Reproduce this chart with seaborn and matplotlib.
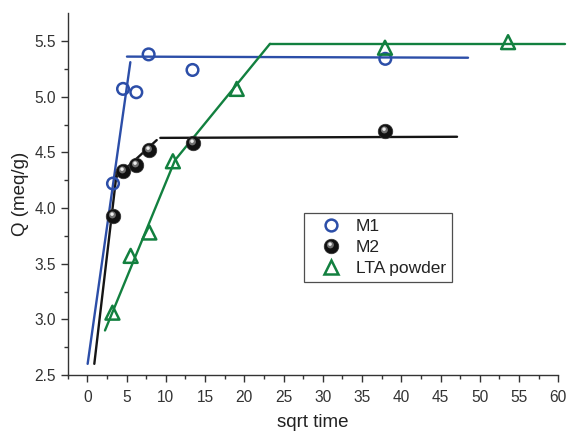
import numpy as np
import pandas as pd
import matplotlib
matplotlib.use("Agg")
import matplotlib.pyplot as plt
import seaborn as sns
from matplotlib.path import Path
from matplotlib.lines import Line2D
from matplotlib.legend_handler import HandlerTuple
from matplotlib.ticker import MultipleLocator

# ---- data ----
m1_x = [3.27, 4.55, 6.24, 7.81, 13.4, 37.96]
m1_q = [4.22, 5.07, 5.04, 5.38, 5.24, 5.34]
m2_x = [3.22, 4.55, 6.24, 7.81, 13.46, 37.96]
m2_q = [3.93, 4.33, 4.39, 4.52, 4.58, 4.69]
lta_x = [3.2, 5.52, 7.9, 10.9, 19.03, 37.92, 53.6]
lta_q = [3.06, 3.57, 3.78, 4.42, 5.07, 5.44, 5.49]

# fitted line segments: (x0, q0, x1, q1)
m1_fit = [(0.04, 2.60, 5.48, 5.31), (5.05, 5.36, 48.5, 5.35)]
m2_fit = [(0.89, 2.60, 3.75, 4.32), (3.75, 4.28, 8.84, 4.61), (9.3, 4.63, 47.1, 4.64)]
lta_fit = [(2.25, 2.90, 11.17, 4.43), (11.17, 4.43, 23.27, 5.475), (23.27, 5.475, 60.8, 5.475)]

labels = ["M1", "M2", "LTA powder"]
x_ticks = list(range(0, 61, 5))
y_ticks = [2.5, 3.0, 3.5, 4.0, 4.5, 5.0, 5.5]

BLUE = "#2C4EA8"
GREEN = "#12803F"
BLACK = "#151515"

sns.set_style("ticks")
plt.rcParams["font.family"] = ["Liberation Sans", "DejaVu Sans"]

fig = plt.figure(figsize=(5.67, 4.32), dpi=100)
ax = fig.add_axes([67.7 / 567, 1 - 375 / 432, (558.3 - 67.7) / 567, (375 - 13.3) / 432])


def seg_frame(segs):
    rows = []
    for i, (x0, q0, x1, q1) in enumerate(segs):
        rows.append({"x": x0, "q": q0, "seg": i})
        rows.append({"x": x1, "q": q1, "seg": i})
    return pd.DataFrame(rows)


for segs, col in [(m1_fit, BLUE), (m2_fit, BLACK), (lta_fit, GREEN)]:
    sns.lineplot(data=seg_frame(segs), x="x", y="q", units="seg", estimator=None,
                 sort=False, color=col, lw=1.7, ax=ax, legend=False, clip_on=False)


def spot(cx, cy, r):
    c = Path.circle((cx, cy), r)
    verts = np.vstack([[[-1, -1], [1, 1]], c.vertices])
    codes = np.concatenate([[Path.MOVETO, Path.MOVETO], c.codes])
    return Path(verts, codes)


spot1 = spot(-0.15, 0.22, 0.48)
spot2 = spot(-0.2, 0.32, 0.24)

# points
sns.scatterplot(x=m1_x, y=m1_q, marker="o", s=70, facecolor="none",
                edgecolor=BLUE, linewidth=1.8, ax=ax, zorder=5, clip_on=False)
sns.scatterplot(x=lta_x, y=lta_q, marker="^", s=100, facecolor="none",
                edgecolor=GREEN, linewidth=1.8, ax=ax, zorder=5, clip_on=False)
sns.scatterplot(x=m2_x, y=m2_q, marker="o", s=110, color="#111111",
                edgecolor="#333333", linewidth=0.5, ax=ax, zorder=6)
sns.scatterplot(x=m2_x, y=m2_q, marker=spot1, s=110, color="#707070",
                linewidth=0, ax=ax, zorder=7)
sns.scatterplot(x=m2_x, y=m2_q, marker=spot2, s=110, color="#eeeeee",
                linewidth=0, ax=ax, zorder=8)

ax.set_xlim(-2.5, 60)
ax.set_ylim(2.5, 5.749)
ax.set_xticks(x_ticks)
ax.set_yticks(y_ticks)
ax.set_yticklabels([f"{v:.1f}" for v in y_ticks])
ax.xaxis.set_minor_locator(MultipleLocator(2.5))
ax.yaxis.set_minor_locator(MultipleLocator(0.25))
ax.tick_params(which="major", direction="out", length=5, width=1, color="#333333",
               labelsize=11.2, labelcolor="#333333", pad=3.5)
ax.tick_params(axis="x", which="major", pad=5.5)
ax.tick_params(which="minor", direction="out", length=3, width=1, color="#333333")
for s in ["left", "bottom"]:
    ax.spines[s].set_color("#333333")
    ax.spines[s].set_linewidth(1.0)
sns.despine(ax=ax)

ax.set_xlabel("sqrt time", fontsize=13.5, color="#222222", labelpad=7)
ax.set_ylabel("Q (meq/g)", fontsize=13.5, color="#222222", labelpad=4)

# legend
h_m1 = Line2D([], [], ls="none", marker="o", ms=8.5, mfc="none", mec=BLUE, mew=1.8)
h_m2a = Line2D([], [], ls="none", marker="o", ms=10.5, mfc="#111111", mec="#333333", mew=0.5)
h_m2b = Line2D([], [], ls="none", marker=spot1, ms=10.5, mfc="#707070", mew=0)
h_m2c = Line2D([], [], ls="none", marker=spot2, ms=10.5, mfc="#eeeeee", mew=0)
h_lta = Line2D([], [], ls="none", marker="^", ms=10, mfc="none", mec=GREEN, mew=1.8)
leg = ax.legend([h_m1, (h_m2a, h_m2b, h_m2c), h_lta], labels,
                handler_map={tuple: HandlerTuple(ndivide=1)},
                loc="upper left", bbox_to_anchor=(304 / 567, 1 - 213 / 432),
                bbox_transform=fig.transFigure, borderaxespad=0,
                fontsize=12.5, frameon=True, fancybox=False, borderpad=0.35,
                handlelength=2.4, handletextpad=0.25, labelspacing=0.32)
leg.get_frame().set_edgecolor("#222222")
leg.get_frame().set_linewidth(0.9)
for t in leg.get_texts():
    t.set_color("#222222")

fig.savefig("out.png", dpi=100)
